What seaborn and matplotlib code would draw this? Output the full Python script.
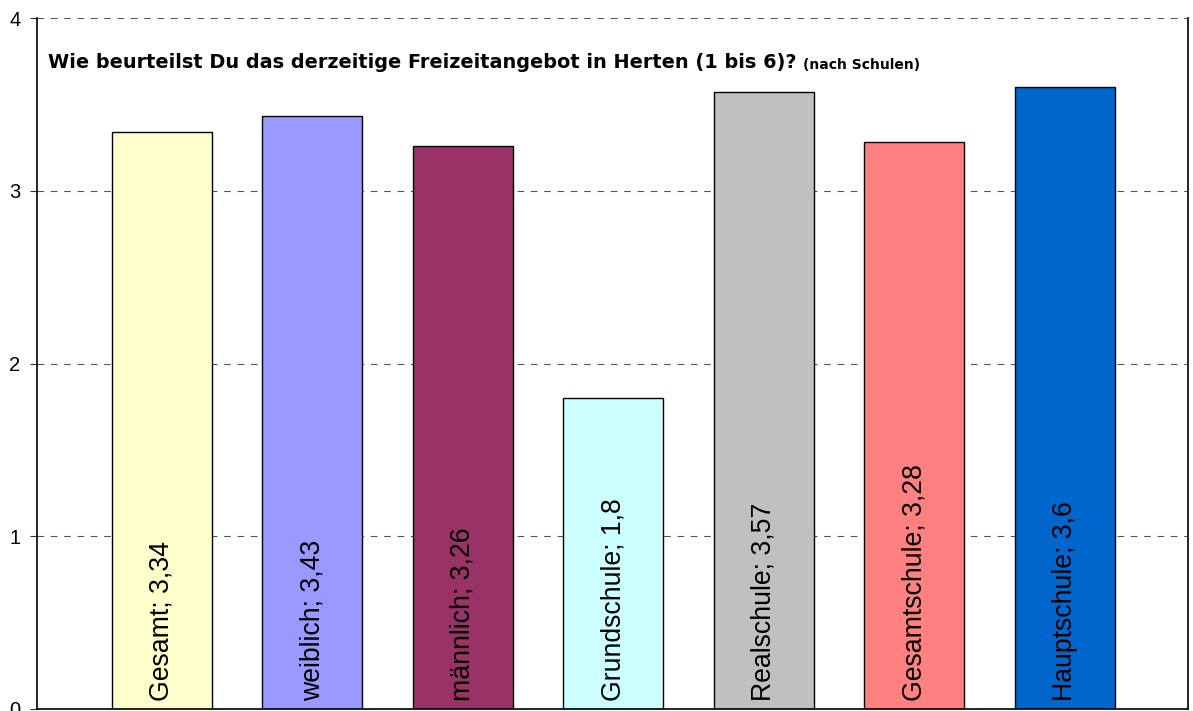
import matplotlib
matplotlib.use("Agg")
import matplotlib.pyplot as plt
import seaborn as sns
import pandas as pd

categories = ["Gesamt", "weiblich", "männlich", "Grundschule", "Realschule", "Gesamtschule", "Hauptschule"]
values = [3.34, 3.43, 3.26, 1.8, 3.57, 3.28, 3.6]
value_labels = ["3,34", "3,43", "3,26", "1,8", "3,57", "3,28", "3,6"]
colors = ["#FFFFCC", "#9999FF", "#993366", "#CCFFFF", "#C0C0C0", "#FF8080", "#0066CC"]
yticks = [0, 1, 2, 3, 4]

sns.set_theme(style="white")
plt.rcParams['font.family'] = ['Liberation Sans', 'DejaVu Sans']
plt.rcParams['text.color'] = 'black'
plt.rcParams['ytick.color'] = 'black'

df = pd.DataFrame({"cat": categories, "val": values})

fig = plt.figure(figsize=(11.93, 7.11), dpi=100)
ax = fig.add_axes([37/1193, 1 - 709/711, (1188-37)/1193, (709-18)/711])

sns.barplot(data=df, x="cat", y="val", hue="cat", palette=colors, legend=False,
            width=0.665, edgecolor="black", linewidth=1.0, ax=ax, saturation=1)

ax.set_xlim(-0.83, 6.82)
ax.set_ylim(0, 4)
ax.set_yticks(yticks)
ax.set_yticklabels([str(t) for t in yticks], fontsize=14.5, color="black")
ax.tick_params(axis="y", length=5, width=0.8, color="#333333", pad=7, left=True)
ax.set_xticks([])
ax.set_xlabel("")
ax.set_ylabel("")

for y in [1, 2, 3, 4]:
    ax.axhline(y, color="#555555", linestyle=(0, (6, 6)), linewidth=0.8, zorder=0)

for s in ["left", "bottom", "right"]:
    ax.spines[s].set_visible(True)
    ax.spines[s].set_color("black")
    ax.spines[s].set_linewidth(1.2)
ax.spines["top"].set_visible(False)

for i, (c, lab) in enumerate(zip(categories, value_labels)):
    ax.text(i, 0.045, f"{c}; {lab}", rotation=90, ha="center", va="bottom",
            fontsize=19.2, color="black")

main = ax.text(0.0095, 0.935, "Wie beurteilst Du das derzeitige Freizeitangebot in Herten (1 bis 6)?",
               transform=ax.transAxes, fontsize=13.9, fontweight="bold", va="center", ha="left",
               family=["DejaVu Sans"], color="black")
sub = ax.text(0.0, 0.932, "(nach Schulen)", transform=ax.transAxes,
              fontsize=10, fontweight="bold", va="center", ha="left",
              family=["DejaVu Sans"], color="black")

fig.canvas.draw()
bb = main.get_window_extent()
inv = ax.transAxes.inverted()
x1 = inv.transform((bb.x1 + 7, 0))[0]
sub.set_x(x1)

fig.savefig("out.png", dpi=100)
